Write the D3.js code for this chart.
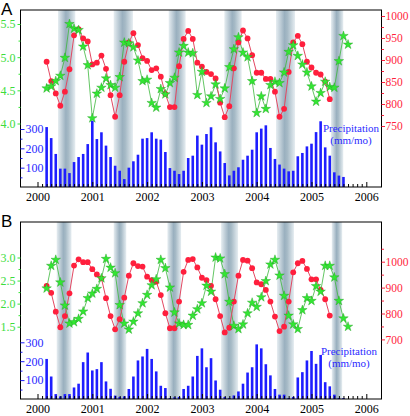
<!DOCTYPE html>
<html><head><meta charset="utf-8">
<script src="https://cdn.jsdelivr.net/npm/d3@7"></script>
<style>body{margin:0;background:#fff}svg{display:block}</style>
</head><body>
<svg id="c" width="410" height="416"></svg>
<script>
// ---- data (monthly, starting March 2000) ----
const years = [2000, 2001, 2002, 2003, 2004, 2005, 2006];

const precipA = [310,253,171,95,95,72,129,155,171,222,343,248,283,214,155,110,84,41,100,133,167,250,253,283,250,245,181,98,84,67,84,150,162,266,219,274,309,231,184,124,60,84,102,141,162,193,283,302,319,202,145,116,95,81,84,159,176,210,224,284,340,205,162,76,59,52];
const redA = [896,852,824,796,828,879,956,970,949,942,890,894,910,880,820,771,820,896,940,961,934,904,898,877,881,862,823,793,793,886,948,966,948,894,885,873,868,858,803,770,795,881,940,967,949,911,871,871,857,857,828,771,789,873,940,955,936,896,883,871,867,851,811];
const greenA = [4.53,4.56,4.64,4.72,4.99,5.50,5.43,5.41,5.16,4.88,4.08,4.45,4.54,4.68,4.58,4.54,4.70,5.22,5.21,5.15,4.95,4.64,4.66,4.31,4.24,4.52,4.44,4.61,4.69,5.07,5.17,5.07,5.06,4.43,4.78,4.31,4.41,4.59,4.37,4.53,4.85,5.12,5.30,5.07,5.00,4.64,4.16,4.41,4.22,4.58,4.63,4.61,4.77,5.08,5.18,5.02,4.89,4.77,4.56,4.33,4.46,4.63,4.55,4.54,4.94,5.32,5.19];

const precipB = [212,119,26,14,26,26,61,81,195,246,151,158,195,93,54,18,11,14,53,119,204,225,265,212,146,70,58,5,9,11,53,70,119,228,268,168,216,98,49,11,5,19,40,81,140,168,289,268,184,125,53,23,23,5,11,114,142,204,254,186,233,89,67,23,5,5];
const redB = [907,880,807,747,790,878,985,1009,998,998,971,951,936,859,790,739,778,861,946,994,983,981,942,929,923,871,801,743,743,846,961,1007,1010,978,938,929,907,855,790,727,745,846,946,1007,1004,975,920,913,891,846,788,732,749,846,959,994,1003,972,932,932,891,855,792];
const greenB = [2.33,2.82,2.95,2.46,1.96,1.57,1.60,1.67,1.83,2.12,2.22,2.32,2.55,2.97,2.78,2.66,1.97,1.57,1.44,1.61,1.79,2.01,2.19,2.40,2.53,2.95,2.77,2.35,1.81,1.57,1.54,1.54,1.74,1.88,2.01,2.39,2.26,3.00,2.98,2.64,2.04,1.52,1.45,1.55,1.79,2.02,1.93,2.14,2.49,2.85,2.95,2.61,2.17,1.74,1.55,1.45,1.86,2.12,2.06,2.38,2.26,2.82,2.82,2.57,2.06,1.68,1.50];

// dry-season shaded bands (decimal years)
const bandsA = [[2000.374,2000.69],[2001.39,2001.742],[2002.394,2002.704],[2003.409,2003.726],[2004.352,2004.70],[2005.356,2005.58]];
const bandsB = [[2000.35,2000.62],[2001.39,2001.62],[2002.37,2002.62],[2003.35,2003.66],[2004.37,2004.68],[2005.37,2005.56]];

const greenTicksA = [4.0,4.5,5.0,5.5], greenMinorA = [4.25,4.75,5.25];
const greenTicksB = [1.5,2.0,2.5,3.0], greenMinorB = [1.75,2.25,2.75];
const blueTicks = [100,200,300], blueMinor = [50,150,250];
const redTicksA = [750,800,850,900,950,1000], redMinorA = [775,825,875,925,975];
const redTicksB = [700,800,900,1000], redMinorB = [750,850,950,1050];
const precipLabel = ["Precipitation", "(mm/mo)"];

// ---- drawing ----
const svg = d3.select('#c');
const defs = svg.append('defs');
const grad = defs.append('linearGradient').attr('id','band').attr('x1','0%').attr('x2','100%');
[[0,'#e6edf1'],[0.45,'#9ab0bf'],[0.6,'#a6bac6'],[1,'#e6edf1']].forEach(([o,c]) =>
  grad.append('stop').attr('offset', o).attr('stop-color', c));

const LEFT = 20.5, RIGHT = 381.5;
const x = d3.scaleLinear().domain([2000, 2006]).range([37.5, 366.3]);
const monthT = i => 2000 + (i + 2) / 12;
const SERIF = '"Liberation Serif","Times New Roman",serif';

const RED = '#ff1f3d', REDLINE = '#e34862', GREEN = '#33e633', GREENLINE = '#3cb83c', BLUE = '#1e1eff';

function styleText(sel, size, color) {
  sel.attr('font-family', null).style('font-family', SERIF)
     .style('font-size', size + 'px').attr('fill', color);
}

function panel(cfg) {
  const g = svg.append('g');
  const gS = d3.scaleLinear().domain(cfg.gDom).range(cfg.gRange);
  const rS = d3.scaleLinear().domain(cfg.rDom).range(cfg.rRange);
  const bS = d3.scaleLinear().domain([0, 300]).range([cfg.bottom, cfg.b300]);

  // bands
  g.selectAll('rect.band').data(cfg.bands).join('rect')
    .attr('x', d => x(d[0])).attr('width', d => x(d[1]) - x(d[0]))
    .attr('y', cfg.top).attr('height', cfg.bottom - cfg.top)
    .attr('fill', 'url(#band)');

  // bars
  g.selectAll('rect.bar').data(cfg.precip).join('rect')
    .attr('x', (d, i) => x(monthT(i)) - 1.3).attr('width', 2.6)
    .attr('y', d => bS(d)).attr('height', d => cfg.bottom - bS(d))
    .attr('fill', BLUE);

  // frame
  g.append('rect').attr('x', LEFT).attr('y', cfg.top)
    .attr('width', RIGHT - LEFT).attr('height', cfg.bottom - cfg.top)
    .attr('fill', 'none').attr('stroke', '#000').attr('stroke-width', 1);

  // x axis
  const xa = g.append('g').attr('transform', `translate(0,${cfg.bottom})`)
    .call(d3.axisBottom(x).tickValues(years).tickFormat(d3.format('d')).tickSize(-5).tickPadding(5));
  const months = d3.range(2000, 2006.001, 1/12).filter(v => Math.abs(v - Math.round(v)) > 0.01);
  const xm = g.append('g').attr('transform', `translate(0,${cfg.bottom})`)
    .call(d3.axisBottom(x).tickValues(months).tickFormat('').tickSize(-3));
  [xa, xm].forEach(a => { a.select('.domain').remove(); a.selectAll('line').attr('stroke', '#000'); });
  styleText(xa.selectAll('text'), 12, '#000');

  // green axis (left, outward)
  const ga = g.append('g').attr('transform', `translate(${LEFT},0)`)
    .call(d3.axisLeft(gS).tickValues(cfg.gTicks).tickFormat(d3.format('.1f')).tickSize(3).tickPadding(2));
  const gm = g.append('g').attr('transform', `translate(${LEFT},0)`)
    .call(d3.axisLeft(gS).tickValues(cfg.gMinor).tickFormat('').tickSize(2));
  [ga, gm].forEach(a => { a.select('.domain').remove(); a.selectAll('line').attr('stroke', GREEN); });
  styleText(ga.selectAll('text'), 12, '#3ddc3d');

  // blue axis (left, inward)
  const ba = g.append('g').attr('transform', `translate(${LEFT},0)`)
    .call(d3.axisRight(bS).tickValues(blueTicks).tickFormat(d3.format('d')).tickSize(4).tickPadding(1));
  const bm = g.append('g').attr('transform', `translate(${LEFT},0)`)
    .call(d3.axisRight(bS).tickValues(blueMinor).tickFormat('').tickSize(2));
  [ba, bm].forEach(a => { a.select('.domain').remove(); a.selectAll('line').attr('stroke', BLUE); });
  styleText(ba.selectAll('text'), 12, '#2a2aff');

  // red axis (right)
  const ra = g.append('g').attr('transform', `translate(${RIGHT},0)`)
    .call(d3.axisRight(rS).tickValues(cfg.rTicks).tickFormat(d3.format('d')).tickSize(3.5).tickPadding(0.5));
  const rm = g.append('g').attr('transform', `translate(${RIGHT},0)`)
    .call(d3.axisRight(rS).tickValues(cfg.rMinor).tickFormat('').tickSize(2.5));
  [ra, rm].forEach(a => { a.select('.domain').remove(); a.selectAll('line').attr('stroke', RED); });
  styleText(ra.selectAll('text'), 11.5, RED);

  // green line
  const gl = d3.line().x((d, i) => x(monthT(i))).y(d => gS(d));
  g.append('path').datum(cfg.green).attr('d', gl)
    .attr('fill', 'none').attr('stroke', GREENLINE).attr('stroke-width', 0.8);
  // red line + circles
  const rl = d3.line().x((d, i) => x(monthT(i))).y(d => rS(d));
  g.append('path').datum(cfg.red).attr('d', rl)
    .attr('fill', 'none').attr('stroke', REDLINE).attr('stroke-width', 1);
  g.selectAll('circle.r').data(cfg.red).join('circle')
    .attr('cx', (d, i) => x(monthT(i))).attr('cy', d => rS(d)).attr('r', 2.9)
    .attr('fill', RED);
  // stars
  const star = d3.symbol().type(d3.symbolStar).size(28);
  g.selectAll('path.s').data(cfg.green).join('path')
    .attr('d', star)
    .attr('transform', (d, i) => `translate(${x(monthT(i))},${gS(d)})`)
    .attr('fill', GREEN).attr('stroke', '#1f9f1f').attr('stroke-width', 0.4);

  // precipitation label
  const pl = g.selectAll('text.pl').data(precipLabel).join('text')
    .attr('x', cfg.plX).attr('y', (d, i) => cfg.plY + i * 12)
    .attr('text-anchor', 'middle').text(d => d);
  styleText(pl, 11, '#2a2aff');

  // panel letter
  svg.append('text').attr('x', 1).attr('y', cfg.top + 5)
    .style('font-family', '"Liberation Sans",Arial,sans-serif').style('font-size', '17px')
    .attr('fill', '#000').text(cfg.letter);
}

panel({letter: 'A', top: 10, bottom: 187, b300: 129,
  gDom: [4, 5.5], gRange: [123.5, 24], rDom: [750, 1000], rRange: [126, 16],
  gTicks: greenTicksA, gMinor: greenMinorA, rTicks: redTicksA, rMinor: redMinorA,
  precip: precipA, red: redA, green: greenA, bands: bandsA, plX: 351, plY: 131.5});

panel({letter: 'B', top: 222, bottom: 399, b300: 342.3,
  gDom: [1.5, 3], gRange: [326.7, 257.5], rDom: [700, 1000], rRange: [339.4, 261.7],
  gTicks: greenTicksB, gMinor: greenMinorB, rTicks: redTicksB, rMinor: redMinorB,
  precip: precipB, red: redB, green: greenB, bands: bandsB, plX: 349, plY: 355});
</script>
</body></html>
